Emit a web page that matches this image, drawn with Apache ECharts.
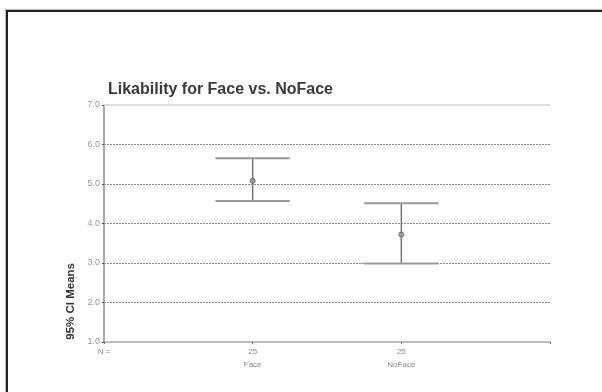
<!DOCTYPE html>
<html>
<head>
<meta charset="utf-8">
<script src="https://cdn.jsdelivr.net/npm/echarts@6/dist/echarts.min.js"></script>
<style>
html,body{margin:0;padding:0;background:#fff;}
#wrap{position:relative;width:602px;height:392px;overflow:hidden;}
#chart{position:absolute;left:0;top:0;width:602px;height:392px;}
#frame{position:absolute;left:6px;top:10px;width:620px;height:420px;border-left:2.5px solid #222;border-top:2.5px solid #222;box-shadow:-1px -1px 1px #bbb;pointer-events:none;}
</style>
</head>
<body>
<div id="wrap"><div id="chart"></div><div id="frame"></div></div>
<script>
var categories = ['Face', 'NoFace'];
var nCounts = [25, 25];
var means = [5.08, 3.72];
var lowerCI = [4.57, 2.99];
var upperCI = [5.65, 4.51];
var yTicks = [1, 2, 3, 4, 5, 6, 7];
var titleText = 'Likability for Face vs. NoFace';
var yAxisTitle = '95% CI Means';

var chart = echarts.init(document.getElementById('chart'), null, {renderer: 'canvas'});
var barData = categories.map(function (c, i) { return [i + 1, lowerCI[i], upperCI[i]]; });
var meanData = categories.map(function (c, i) { return [i + 1, means[i]]; });
var font = 'Arial, "Liberation Sans", sans-serif';

chart.setOption({
  animation: false,
  backgroundColor: '#fff',
  title: {
    text: titleText, left: 103, top: 77,
    textStyle: {fontFamily: font, fontSize: 16, fontWeight: 'bold', color: '#3a3a3a'}
  },
  grid: {left: 104, top: 105, right: 52, bottom: 50},
  xAxis: [{
    type: 'value', min: 0, max: categories.length + 1, interval: 1,
    axisLine: {show: true, lineStyle: {color: '#bbb', width: 2}},
    axisTick: {show: true, length: 2, lineStyle: {color: '#666'}},
    splitLine: {show: false},
    axisLabel: {
      margin: 3, fontFamily: font, fontSize: 8, color: '#888', lineHeight: 13,
      formatter: function (v) {
        if (v === 0) return 'N =';
        var i = v - 1;
        if (i >= 0 && i < categories.length) return nCounts[i] + '\n' + categories[i];
        return '';
      }
    }
  }, {
    type: 'value', position: 'top', min: 0, max: categories.length + 1,
    axisLine: {show: true, lineStyle: {color: '#ddd', width: 2}},
    axisTick: {show: false}, axisLabel: {show: false}, splitLine: {show: false}
  }],
  yAxis: [{
    type: 'value', min: yTicks[0], max: yTicks[yTicks.length - 1], interval: 1,
    axisLine: {show: true, lineStyle: {color: '#aaa', width: 2}},
    axisTick: {show: true, length: 2, lineStyle: {color: '#555'}},
    splitLine: {show: true, lineStyle: {color: '#888', type: [2, 1], width: 1}},
    axisLabel: {
      margin: 4, fontFamily: font, fontSize: 9, color: '#999',
      formatter: function (v) { return v.toFixed(1); }
    }
  }, {
    type: 'value', position: 'right', min: yTicks[0], max: yTicks[yTicks.length - 1],
    axisLine: {show: true, lineStyle: {color: '#aaa', width: 2}},
    axisTick: {show: false}, axisLabel: {show: false}, splitLine: {show: false}
  }],
  graphic: [{
    type: 'text', left: 65, top: 263, rotation: Math.PI / 2,
    style: {text: yAxisTitle, fontFamily: font, fontSize: 11.5, fontWeight: 'bold', fill: '#333'}
  }],
  series: [{
    type: 'custom',
    data: barData,
    renderItem: function (params, api) {
      var x = api.value(0);
      var top = api.coord([x, api.value(2)]);
      var bot = api.coord([x, api.value(1)]);
      var hw = api.size([0.25, 0])[0];
      return {
        type: 'group',
        children: [
          {type: 'line', shape: {x1: top[0], y1: top[1], x2: bot[0], y2: bot[1]}, style: {stroke: '#777', lineWidth: 1.5}},
          {type: 'line', shape: {x1: top[0] - hw, y1: top[1], x2: top[0] + hw, y2: top[1]}, style: {stroke: '#999', lineWidth: 2}},
          {type: 'line', shape: {x1: bot[0] - hw, y1: bot[1], x2: bot[0] + hw, y2: bot[1]}, style: {stroke: '#999', lineWidth: 2}}
        ]
      };
    },
    z: 5
  }, {
    type: 'scatter',
    data: meanData,
    symbol: 'circle', symbolSize: 5,
    itemStyle: {color: '#999', borderColor: '#555', borderWidth: 1},
    z: 6
  }]
});
</script>
</body>
</html>
